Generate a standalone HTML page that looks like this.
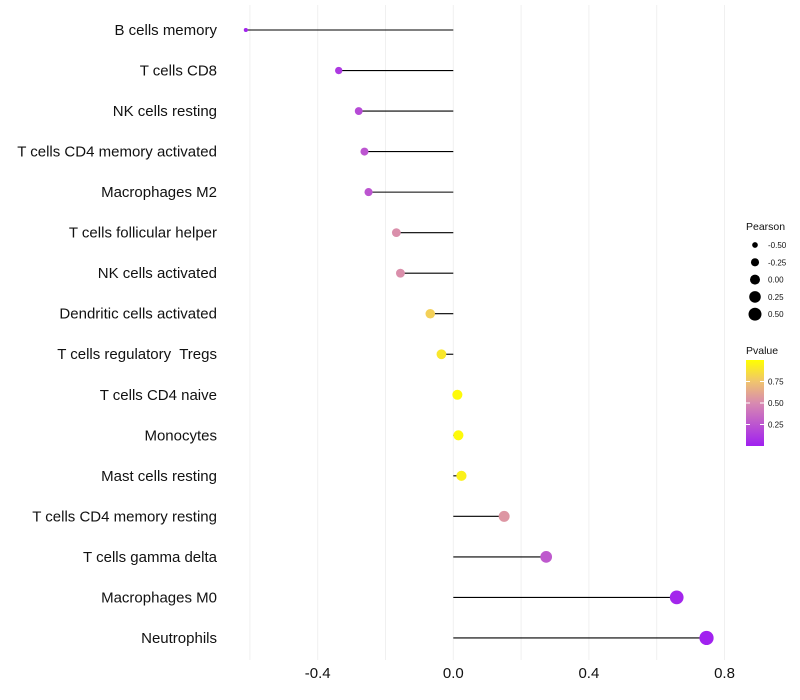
<!DOCTYPE html>
<html><head><meta charset="utf-8"><style>
body{margin:0;background:#fff;}
svg{display:block;font-family:"Liberation Sans",sans-serif;}
text{white-space:pre;}
</style></head><body>
<svg id="chart" width="800" height="700" viewBox="0 0 800 700">
<g id="grid"></g>
<g id="marks"></g>
<g id="ylabels"></g>
<g id="xlabels"></g>
<g id="legend"></g>
</svg>
<script>
const categories=["B cells memory","T cells CD8","NK cells resting","T cells CD4 memory activated","Macrophages M2","T cells follicular helper","NK cells activated","Dendritic cells activated","T cells regulatory  Tregs","T cells CD4 naive","Monocytes","Mast cells resting","T cells CD4 memory resting","T cells gamma delta","Macrophages M0","Neutrophils"];
const pearson=[-0.612,-0.338,-0.279,-0.262,-0.25,-0.168,-0.156,-0.068,-0.035,0.012,0.015,0.024,0.15,0.274,0.659,0.747];
const pvalues=[0.02,0.12,0.2,0.25,0.25,0.52,0.52,0.8,0.9,0.98,0.98,0.94,0.55,0.27,0.03,0.01];
const xTicks=[-0.4,0.0,0.4,0.8];
const xGrid=[-0.6,-0.4,-0.2,0,0.2,0.4,0.6,0.8];
const legendSizes=[-0.5,-0.25,0,0.25,0.5];
const legendP=[0.75,0.5,0.25];

const NS="http://www.w3.org/2000/svg";
const xS=v=>453.3+v*339;
const yS=i=>30+i*40.53;
const rS=v=>Math.sqrt(Math.max(3,25+v*34));
function col(p){
  const stops=[[0,[160,32,240]],[0.5,[216,138,176]],[0.75,[240,196,110]],[1,[255,255,0]]];
  for(let k=1;k<stops.length;k++){if(p<=stops[k][0]){const a=stops[k-1],b=stops[k];const t=(p-a[0])/(b[0]-a[0]);return 'rgb('+a[1].map((c,j)=>Math.round(c+(b[1][j]-c)*t)).join(',')+')';}}
  return 'rgb(255,255,0)';
}
function mk(tag,attrs,parent,text){const e=document.createElementNS(NS,tag);for(const k in attrs)e.setAttribute(k,attrs[k]);if(text!==undefined)e.textContent=text;parent.appendChild(e);return e;}
const grid=document.getElementById('grid'),marks=document.getElementById('marks'),yl=document.getElementById('ylabels'),xl=document.getElementById('xlabels'),lg=document.getElementById('legend');
xGrid.forEach(v=>{const l=mk('line',{x1:xS(v),x2:xS(v),y1:5,y2:660,stroke:'#f0f0f0','stroke-width':1},grid);

});
categories.forEach((c,i)=>{
  const y=yS(i);
  const s=mk('line',{x1:xS(0),x2:xS(pearson[i]),y1:y,y2:y,stroke:'#000','stroke-width':1.1},marks);
  
  
  const p=mk('circle',{cx:xS(pearson[i]),cy:y,r:rS(pearson[i]),fill:col(pvalues[i])},marks);
  
  
  const t=mk('text',{x:217,y:y+5,'text-anchor':'end','font-size':15,fill:'#111'},yl,c);
  
  
});
xTicks.forEach(v=>{const t=mk('text',{x:xS(v),y:678,'text-anchor':'middle','font-size':15,fill:'#111'},xl,v.toFixed(1));

});
const lt=mk('text',{x:746,y:230,'font-size':10.5,fill:'#111'},lg,'Pearson');


legendSizes.forEach((v,k)=>{const y=245+k*17.3;
const c=mk('circle',{cx:755,cy:y,r:rS(v),fill:'#000'},lg);


const t=mk('text',{x:768,y:y+3,'font-size':8,fill:'#111'},lg,v.toFixed(2));

});
const pt=mk('text',{x:746,y:354,'font-size':10.5,fill:'#111'},lg,'Pvalue');


const defs=mk('defs',{},lg);const gr=mk('linearGradient',{id:'pg',x1:0,y1:1,x2:0,y2:0},defs);
[0,0.5,0.75,1].forEach(o=>mk('stop',{offset:o,'stop-color':col(o)},gr));
const bar=mk('rect',{x:746,y:360,width:18,height:86,fill:'url(#pg)'},lg);


const pY=p=>446-p*86;
legendP.forEach(p=>{const y=pY(p);
mk('line',{x1:746,x2:750,y1:y,y2:y,stroke:'#fff','stroke-width':1},lg);
mk('line',{x1:760,x2:764,y1:y,y2:y,stroke:'#fff','stroke-width':1},lg);
const t=mk('text',{x:768,y:y+3,'font-size':8,fill:'#111'},lg,p.toFixed(2));

});
</script>
</body></html>
